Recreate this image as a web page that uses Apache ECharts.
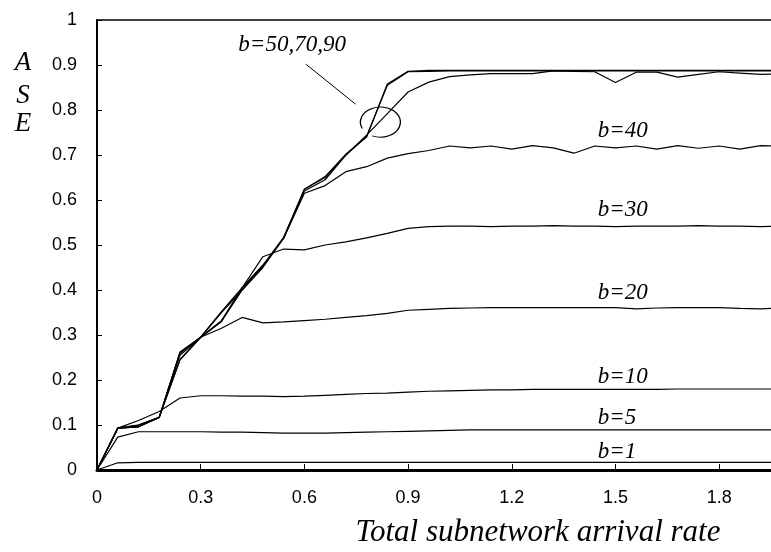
<!DOCTYPE html>
<html>
<head>
<meta charset="utf-8">
<script src="https://cdn.jsdelivr.net/npm/echarts@6/dist/echarts.min.js"></script>
<style>
html,body{margin:0;padding:0;background:#fff}
#chart{width:771px;height:552px}
</style>
</head>
<body>
<div id="chart"></div>
<script>
// total subnetwork arrival rate (x)
var xRate = [0,0.06,0.12,0.18,0.24,0.3,0.36,0.42,0.48,0.54,0.6,0.66,0.72,0.78,0.84,0.9,0.96,1.02,1.08,1.14,1.2,1.26,1.32,1.38,1.44,1.5,1.56,1.62,1.68,1.74,1.8,1.86,1.92,1.98];
// ASE for every b
var b1  = [0,0.016,0.017,0.017,0.017,0.017,0.017,0.017,0.017,0.017,0.017,0.017,0.017,0.017,0.017,0.017,0.017,0.017,0.017,0.017,0.017,0.017,0.017,0.017,0.017,0.017,0.017,0.017,0.017,0.017,0.017,0.017,0.017,0.017];
var b5  = [0,0.073,0.085,0.085,0.085,0.085,0.084,0.084,0.083,0.082,0.082,0.082,0.083,0.084,0.085,0.086,0.087,0.088,0.089,0.089,0.089,0.089,0.089,0.089,0.089,0.089,0.089,0.089,0.089,0.089,0.089,0.089,0.089,0.089];
var b10 = [0,0.093,0.11,0.13,0.16,0.165,0.165,0.164,0.164,0.163,0.164,0.166,0.168,0.17,0.171,0.173,0.175,0.176,0.177,0.178,0.178,0.179,0.179,0.179,0.179,0.179,0.179,0.179,0.18,0.18,0.18,0.18,0.18,0.18];
var b20 = [0,0.093,0.098,0.117,0.255,0.295,0.315,0.339,0.327,0.329,0.332,0.335,0.339,0.343,0.348,0.355,0.357,0.359,0.36,0.361,0.361,0.361,0.361,0.361,0.361,0.361,0.358,0.36,0.361,0.361,0.361,0.359,0.358,0.36];
var b30 = [0,0.093,0.1,0.117,0.245,0.295,0.352,0.405,0.474,0.491,0.489,0.5,0.507,0.516,0.526,0.537,0.541,0.542,0.542,0.541,0.542,0.542,0.543,0.542,0.542,0.541,0.542,0.542,0.542,0.543,0.542,0.542,0.541,0.542];
var b40 = [0,0.093,0.096,0.117,0.26,0.295,0.33,0.4,0.45,0.515,0.615,0.632,0.663,0.674,0.693,0.703,0.71,0.72,0.716,0.72,0.713,0.721,0.716,0.704,0.72,0.716,0.72,0.713,0.721,0.715,0.72,0.713,0.721,0.72];
var b50 = [0,0.093,0.1,0.117,0.245,0.295,0.35,0.4,0.452,0.515,0.62,0.645,0.7,0.744,0.792,0.84,0.862,0.874,0.878,0.881,0.881,0.881,0.887,0.886,0.885,0.861,0.884,0.884,0.873,0.879,0.885,0.882,0.879,0.88];
var b70 = [0,0.093,0.096,0.117,0.26,0.295,0.33,0.405,0.455,0.515,0.624,0.65,0.7,0.741,0.855,0.885,0.886,0.887,0.887,0.887,0.887,0.887,0.887,0.887,0.887,0.887,0.887,0.887,0.887,0.887,0.887,0.887,0.887,0.887];
var b90 = [0,0.093,0.096,0.117,0.262,0.295,0.332,0.405,0.455,0.517,0.624,0.652,0.702,0.74,0.858,0.886,0.888,0.888,0.888,0.888,0.888,0.888,0.888,0.888,0.888,0.888,0.888,0.888,0.888,0.888,0.888,0.888,0.888,0.888];

// curve labels, in data units (left edge, middle)
var labelText = ['b=50,70,90','b=40','b=30','b=20','b=10','b=5','b=1'];
var labelX    = [0.409,1.449,1.449,1.449,1.449,1.449,1.449];
var labelY    = [0.944,0.753,0.578,0.393,0.207,0.116,0.041];

var serif = '"Liberation Serif","Times New Roman",serif';
var sans = '"Liberation Sans",Arial,sans-serif';

var chart = echarts.init(document.getElementById('chart'));

function mkSeries(name, data){
	var pts = [];
	for(var i=0;i<xRate.length;i++){
		pts.push([xRate[i], data[i]]);
	}
	return {
		name:name,
		type:'line',
		data:pts,
		symbol:'none',
		silent:true,
		lineStyle:{color:'#000',width:1.2}
	};
}

var option = {
	animation:false,
	grid:{left:97,top:20,right:0,bottom:82},
	xAxis:[{
		type:'value',
		min:0,
		max:1.95,
		interval:0.3,
		axisLine:{show:true,lineStyle:{color:'#000',width:3}},
		axisTick:{show:true,inside:true,length:6,lineStyle:{color:'#000',width:1}},
		axisLabel:{color:'#000',fontSize:18,fontFamily:sans,margin:19,showMaxLabel:false},
		splitLine:{show:false}
	},{
		type:'value',
		position:'top',
		min:0,
		max:1.95,
		axisLine:{show:true,lineStyle:{color:'#000',width:1.5}},
		axisTick:{show:false},
		axisLabel:{show:false},
		splitLine:{show:false}
	}],
	yAxis:{
		type:'value',
		min:0,
		max:1,
		interval:0.1,
		axisLine:{show:true,lineStyle:{color:'#000',width:2}},
		axisTick:{show:true,inside:true,length:5,lineStyle:{color:'#000',width:1}},
		axisLabel:{color:'#000',fontSize:18,fontFamily:sans,margin:20,padding:[0,0,6,0]},
		splitLine:{show:false}
	},
	series:[
		mkSeries('b=1',b1),
		mkSeries('b=5',b5),
		mkSeries('b=10',b10),
		mkSeries('b=20',b20),
		mkSeries('b=30',b30),
		mkSeries('b=40',b40),
		mkSeries('b=50',b50),
		mkSeries('b=70',b70),
		mkSeries('b=90',b90)
	]
};
chart.setOption(option);

// annotations
var g = [];
for(var i=0;i<labelText.length;i++){
	var p = chart.convertToPixel({gridIndex:0},[labelX[i],labelY[i]]);
	g.push({type:'text',silent:true,style:{text:labelText[i],x:p[0],y:p[1],fill:'#000',
		font:'italic 23px '+serif,textAlign:'left',textVerticalAlign:'middle',align:'left',verticalAlign:'middle'}});
}
var la = chart.convertToPixel({gridIndex:0},[0.604,0.902]);
var lb = chart.convertToPixel({gridIndex:0},[0.748,0.813]);
g.push({type:'line',silent:true,shape:{x1:la[0],y1:la[1],x2:lb[0],y2:lb[1]},style:{stroke:'#000',lineWidth:1}});
var ec = chart.convertToPixel({gridIndex:0},[0.82,0.773]);
g.push({type:'arc',silent:true,shape:{cx:ec[0],cy:ec[1],r:15,startAngle:155*Math.PI/180,endAngle:474*Math.PI/180,clockwise:true},
	scaleX:20/15,originX:ec[0],originY:ec[1],style:{stroke:'#000',lineWidth:1,fill:null}});
// y axis title A S E
var ase = ['A','S','E'];
var aseY = [63,96,124];
for(var j=0;j<ase.length;j++){
	g.push({type:'text',silent:true,style:{text:ase[j],x:23,y:aseY[j],fill:'#000',font:'italic 27px '+serif,
		textAlign:'center',textVerticalAlign:'middle',align:'center',verticalAlign:'middle'}});
}
g.push({type:'text',silent:true,style:{text:'Total subnetwork arrival rate',x:538,y:533,fill:'#000',font:'italic 31px '+serif,
	textAlign:'center',textVerticalAlign:'middle',align:'center',verticalAlign:'middle'}});
chart.setOption({graphic:g});
</script>
</body>
</html>
